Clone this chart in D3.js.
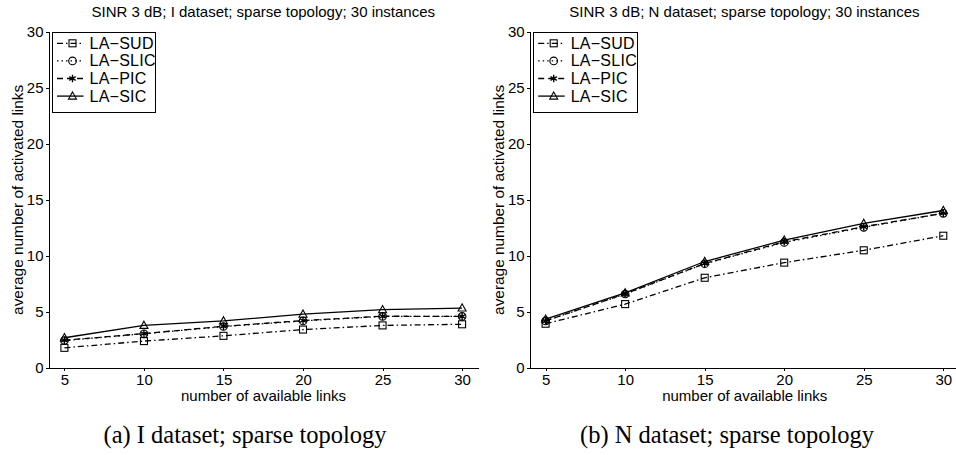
<!DOCTYPE html>
<html>
<head>
<meta charset="utf-8">
<script src="https://cdn.jsdelivr.net/npm/d3@7"></script>
<style>
  body { margin: 0; background: #fff; }
  text { font-family: "Liberation Sans", Arial, sans-serif; fill: #000; }
  .axis path, .axis line { stroke: #000; stroke-width: 1; shape-rendering: crispEdges; }
  .axis text { font-size: 15px; }
</style>
</head>
<body>
<div id="chart"></div>
<script>
'use strict';

// data
var links = [5, 10, 15, 20, 25, 30];
var yTicks = [0, 5, 10, 15, 20, 25, 30];
var seriesNames = ['LA\u2212SUD', 'LA\u2212SLIC', 'LA\u2212PIC', 'LA\u2212SIC'];

var iSud  = [1.8, 2.4, 2.87, 3.43, 3.8, 3.9];
var iSlic = [2.45, 3.05, 3.7, 4.2, 4.6, 4.6];
var iPic  = [2.47, 3.07, 3.72, 4.23, 4.62, 4.6];
var iSic  = [2.7, 3.8, 4.2, 4.8, 5.2, 5.35];

var nSud  = [3.95, 5.7, 8.05, 9.4, 10.5, 11.8];
var nSlic = [4.2, 6.6, 9.3, 11.2, 12.55, 13.8];
var nPic  = [4.2, 6.62, 9.32, 11.26, 12.6, 13.8];
var nSic  = [4.35, 6.7, 9.5, 11.4, 12.9, 14.05];

var titles = ['SINR 3 dB; I dataset; sparse topology; 30 instances',
              'SINR 3 dB; N dataset; sparse topology; 30 instances'];
var captions = ['(a) I dataset; sparse topology', '(b) N dataset; sparse topology'];

var W = 956, H = 455;

// line style + marker for each series
var styles = [
    {dash: '6,3,1.5,3', marker: 'square'},
    {dash: '1.5,3',     marker: 'circle'},
    {dash: '6,4',       marker: 'star'},
    {dash: null,        marker: 'triangle'}
];

var svg = d3.select('#chart').append('svg')
    .attr('width', W)
    .attr('height', H);

function drawMarker(g, type, x, y)
{
    if (type == 'square') {
        g.append('rect').attr('x', x - 3.5).attr('y', y - 3.5)
            .attr('width', 7).attr('height', 7)
            .attr('fill', 'none').attr('stroke', '#000').attr('stroke-width', 1.1);
    } else if (type == 'circle') {
        g.append('circle').attr('cx', x).attr('cy', y).attr('r', 3.8)
            .attr('fill', 'none').attr('stroke', '#000').attr('stroke-width', 1.1);
    } else if (type == 'star') {
        g.append('path')
            .attr('d', d3.symbol().type(d3.symbolAsterisk).size(38)())
            .attr('transform', 'translate(' + x + ',' + y + ')')
            .attr('fill', 'none').attr('stroke', '#000').attr('stroke-width', 1.4);
    } else {
        g.append('path')
            .attr('d', 'M0,-4.2L4,3L-4,3Z')
            .attr('transform', 'translate(' + x + ',' + y + ')')
            .attr('fill', 'none').attr('stroke', '#000').attr('stroke-width', 1.1);
    }
}

function panel(opts)
{
    var x = d3.scaleLinear().domain([4, 31]).range([opts.left, opts.left + 429.5]);
    var y = d3.scaleLinear().domain([0, 30]).range([368, 31.7]);
    var g = svg.append('g');

    g.append('g').attr('class', 'axis')
        .attr('transform', 'translate(0,' + y(0) + ')')
        .call(d3.axisBottom(x).tickValues(links).tickSize(3).tickSizeOuter(0).tickPadding(3));
    g.append('g').attr('class', 'axis')
        .attr('transform', 'translate(' + x(4) + ',0)')
        .call(d3.axisLeft(y).tickValues(yTicks).tickSize(3).tickSizeOuter(0).tickPadding(2));

    var line = d3.line()
        .x(function(d, i){ return x(links[i]); })
        .y(function(d){ return y(d); });

    opts.series.forEach(function(vals, k){
        g.append('path')
            .datum(vals)
            .attr('d', line)
            .attr('fill', 'none')
            .attr('stroke', '#000')
            .attr('stroke-width', 1.3)
            .attr('stroke-dasharray', styles[k].dash);
        vals.forEach(function(v, i){
            drawMarker(g, styles[k].marker, x(links[i]), y(v));
        });
    });

    var mid = (x(4) + x(31)) / 2;
    g.append('text')
        .attr('x', mid).attr('y', 17)
        .attr('text-anchor', 'middle')
        .attr('font-size', '15px')
        .text(opts.title);
    g.append('text')
        .attr('x', opts.left + 215).attr('y', 401)
        .attr('text-anchor', 'middle')
        .attr('font-size', '15px')
        .text('number of available links');
    g.append('text')
        .attr('transform', 'translate(' + (opts.left - 25.5) + ',' + y(15) + ') rotate(-90)')
        .attr('text-anchor', 'middle')
        .attr('font-size', '15.4px')
        .text('average number of activated links');
    g.append('text')
        .attr('x', opts.capX).attr('y', 443)
        .attr('text-anchor', 'middle')
        .attr('font-size', '24.5px')
        .style('font-family', '"Liberation Serif", "Times New Roman", serif')
        .text(opts.caption);

    // legend
    var lg = g.append('g').attr('transform', 'translate(' + (opts.left + 4) + ',32.3)');
    lg.append('rect')
        .attr('width', 103.4).attr('height', 80)
        .attr('fill', '#fff').attr('stroke', '#000').attr('stroke-width', 1)
        .attr('shape-rendering', 'crispEdges');
    seriesNames.forEach(function(name, k){
        var ry = 11 + k * 17.6;
        lg.append('line')
            .attr('x1', 4.5).attr('x2', 31).attr('y1', ry).attr('y2', ry)
            .attr('stroke', '#000').attr('stroke-width', 1.3)
            .attr('stroke-dasharray', styles[k].dash);
        drawMarker(lg, styles[k].marker, 20, ry);
        lg.append('text')
            .attr('x', 37).attr('y', ry + 5.5)
            .attr('font-size', '16px')
            .attr('letter-spacing', '0.25px')
            .text(name);
    });
}

panel({left: 48.5, series: [iSud, iSlic, iPic, iSic], title: titles[0], caption: captions[0], capX: 245});
panel({left: 529.7, series: [nSud, nSlic, nPic, nSic], title: titles[1], caption: captions[1], capX: 727});
</script>
</body>
</html>
